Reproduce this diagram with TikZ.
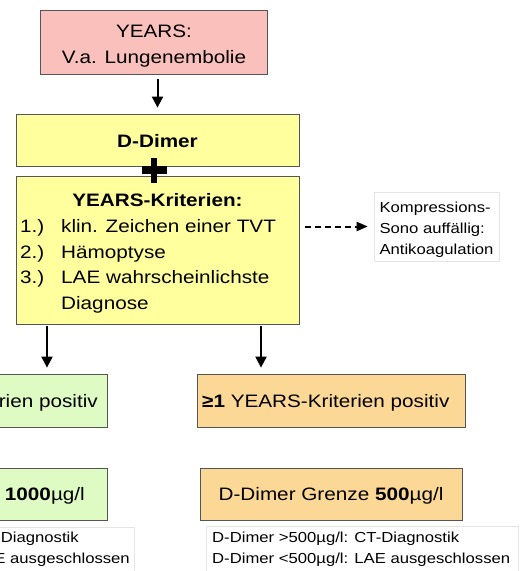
\documentclass[tikz,border=0pt]{standalone}
\usepackage{fontspec}
\setmainfont{Liberation Sans}[FakeStretch=1.15]
\usepackage{tikz}
\usetikzlibrary{positioning, arrows.meta, calc}

\definecolor{pinkbox}{RGB}{250,192,187}
\definecolor{yellowbox}{RGB}{255,255,158}
\definecolor{greenbox}{RGB}{222,251,196}
\definecolor{orangebox}{RGB}{252,216,150}
\definecolor{boxline}{RGB}{85,85,85}

\tikzset{
  box/.style={draw=boxline, line width=0.8pt, inner sep=0pt},
  notebox/.style={draw=black!10, line width=0.6pt, fill=white, inner sep=0pt},
  txt/.style={inner sep=0pt, font=\fontsize{18}{25.6}\selectfont},
  boldtxt/.style={inner sep=0pt, font=\fontsize{18}{25.6}\selectfont\bfseries},
  smalltxt/.style={inner sep=0pt, font=\fontsize{14.5}{21}\selectfont},
  arr/.style={line width=2pt, -{Triangle[length=11pt,width=11pt]}},
  dasharr/.style={line width=2pt, dash pattern=on 6pt off 4pt, -{Triangle[length=11pt,width=9pt]}}
}

\begin{document}
\begin{tikzpicture}[x=1pt, y=-1pt]
\useasboundingbox (0,0) rectangle (523,571);
\clip (0,0) rectangle (523,571);

\node[box, fill=pinkbox, minimum width=226.6pt, minimum height=63.3pt] (start) at (154,42.35) {};
\node[txt, anchor=base] (startA) at (154,37.7) {YEARS:};
\node[txt, anchor=base] (startB) at (154,63.3) {V.a. Lungenembolie};

\node[box, fill=yellowbox, minimum width=283pt, minimum height=52pt] (ddimer) at (157.5,140) {};
\node[boldtxt, anchor=base] (ddimerT) at (157.5,147) {D-Dimer};

\node[box, fill=yellowbox, minimum width=283pt, minimum height=148pt] (krit) at (157.5,250) {};
\node[boldtxt, anchor=base] (kritT) at (157.5,206.5) {YEARS-Kriterien:};
\node[txt, anchor=base west] (kritN1) at (20,232.5) {1.)};
\node[txt, anchor=base west] (kritN2) at (20,258) {2.)};
\node[txt, anchor=base west] (kritN3) at (20,283.5) {3.)};
\node[txt, anchor=base west] (krit1) at (61,232.5) {klin. Zeichen einer TVT};
\node[txt, anchor=base west] (krit2) at (61,258) {Hämoptyse};
\node[txt, anchor=base west] (krit3) at (61,283.5) {LAE wahrscheinlichste};
\node[txt, anchor=base west] (krit3b) at (61,309) {Diagnose};

\coordinate (plus) at (154,170);
\fill (plus) +(-12.5,-3.7) rectangle +(12.5,3.7);
\fill (plus) +(-3.3,-12.5) rectangle +(3.3,12.5);

\node[notebox, minimum width=125pt, minimum height=69pt] (kus) at (436.5,226.5) {};
\node[smalltxt, anchor=base west] (kusA) at (379.3,212.5) {Kompressions-};
\node[smalltxt, anchor=base west] (kusB) at (379.3,233.5) {Sono auffällig:};
\node[smalltxt, anchor=base west] (kusC) at (379.3,254.5) {Antikoagulation};

\node[box, fill=greenbox, minimum width=246pt, minimum height=53pt] (neg) at (-16,400.5) {};
\node[txt, anchor=base east] (negT) at (98,407.5) {\textbf{0} YEARS-Kriterien positiv};
\node[box, fill=orangebox, minimum width=268pt, minimum height=53pt] (pos) at (331,400.5) {};
\node[txt, anchor=base west] (posT) at (202,407.5) {\textbf{≥1} YEARS-Kriterien positiv};

\node[box, fill=greenbox, minimum width=246pt, minimum height=52pt] (negdd) at (-16,494) {};
\node[txt, anchor=base east] (negddT) at (85,500.5) {D-Dimer Grenze \textbf{1000}µg/l};
\node[box, fill=orangebox, minimum width=262pt, minimum height=52pt] (posdd) at (331,494) {};
\node[txt, anchor=base] (posddT) at (331,500.5) {D-Dimer Grenze \textbf{500}µg/l};

\node[notebox, minimum width=330pt, minimum height=60pt, anchor=north east] (negres) at (135,527) {};
\node[smalltxt, anchor=base east] (negres2) at (130,563.5) {D-Dimer <1000µg/l: LAE ausgeschlossen};
\node[smalltxt, anchor=base west] (negres1) at (negres2.base west |- 0,542.5) {D-Dimer >1000µg/l: CT-Diagnostik};
\node[notebox, minimum width=312pt, minimum height=60pt, anchor=north west] (posres) at (206,526) {};
\node[smalltxt, anchor=base west] (posres1) at (212,542.5) {D-Dimer >500µg/l: CT-Diagnostik};
\node[smalltxt, anchor=base west] (posres2) at (212,563.5) {D-Dimer <500µg/l: LAE ausgeschlossen};

\coordinate (kl) at (47,324);
\coordinate (kr) at (261,324);
\draw[arr, shorten <=5pt, shorten >=6pt] (ddimer.north |- start.south) -- (ddimer.north);
\draw[arr, shorten <=2pt, shorten >=6pt] (kl) -- (kl |- neg.north);
\draw[arr, shorten <=2pt, shorten >=6pt] (kr) -- (kr |- pos.north);
\draw[dasharr, shorten <=6pt, shorten >=6pt] (krit.east |- kus.west) -- (kus.west);
\end{tikzpicture}
\end{document}
